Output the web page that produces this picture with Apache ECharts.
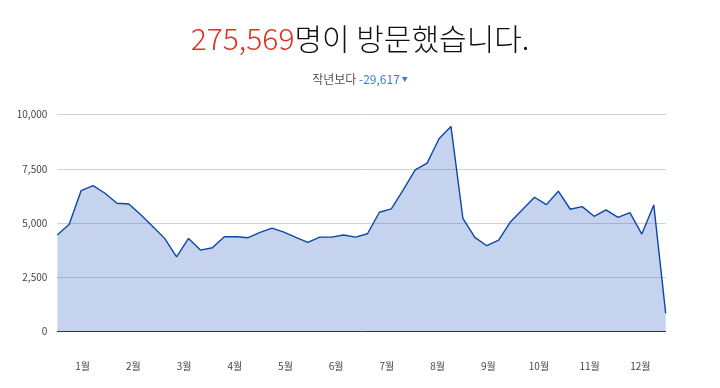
<!DOCTYPE html>
<html><head><meta charset="utf-8">
<script src="https://cdn.jsdelivr.net/npm/echarts@6/dist/echarts.min.js"></script>
<style>html,body{margin:0;padding:0;background:#fff}#c{width:720px;height:388px}</style>
</head><body><div id="c"></div>
<script>
const weeks = Array.from({length: 52}, (_, i) => 'W' + (i + 1));
const visits = [4444,4940,6496,6727,6375,5912,5880,5380,4840,4290,3440,4290,3750,3857,4366,4366,4320,4570,4760,4580,4340,4107,4350,4350,4444,4350,4505,5495,5650,6530,7454,7764,8890,9460,5218,4338,3950,4213,5060,5620,6190,5848,6468,5635,5755,5310,5602,5264,5477,4490,5834,830];
const months = ['1월','2월','3월','4월','5월','6월','7월','8월','9월','10월','11월','12월'];
const yTicks = [0, 2500, 5000, 7500, 10000];
const totalText = '275,569';
const titleRest = '명이 방문했습니다.';
const diffLabel = '작년보다 ';
const diffText = '-29,617';

const FONT = '"Noto Sans CJK KR", "Noto Sans", sans-serif';
const chart = echarts.init(document.getElementById('c'));
chart.setOption({
  animation: false,
  textStyle: {fontFamily: FONT},
  title: [{
    left: 'center', top: 12,
    text: '{r|' + totalText + '}{b|' + titleRest + '}',
    textStyle: {
      fontWeight: 300,
      rich: {
        r: {color: '#e0311f', fontSize: 30, fontFamily: FONT, fontWeight: 300, lineHeight: 44},
        b: {color: '#111', fontSize: 30, fontFamily: FONT, fontWeight: 300, lineHeight: 44}
      }
    }
  }, {
    left: 'center', top: 65,
    text: '{g|' + diffLabel + '}{n|' + diffText + '}{t|▼}',
    textStyle: {
      fontWeight: 'normal',
      rich: {
        g: {color: '#555', fontSize: 12, fontFamily: FONT, fontWeight: 'normal', lineHeight: 18},
        n: {color: '#3a7bd5', fontSize: 12, fontFamily: FONT, fontWeight: 'normal', lineHeight: 18},
        t: {color: '#3a7bd5', fontSize: 6, fontFamily: FONT, fontWeight: 'normal', lineHeight: 18, padding: [0, 0, 0, 2]}
      }
    }
  }],
  grid: {left: 57.3, right: 54.3, top: 114.7, bottom: 56.7},
  xAxis: [{
    type: 'category', data: weeks, boundaryGap: false,
    axisLine: {show: true, lineStyle: {color: '#333', width: 1}},
    axisTick: {show: false}, axisLabel: {show: false}, splitLine: {show: false}
  }, {
    type: 'category', data: months, boundaryGap: true, position: 'bottom',
    axisLine: {show: false}, axisTick: {show: false}, splitLine: {show: false},
    axisLabel: {color: '#444', fontSize: 10, margin: 30, fontFamily: FONT}
  }],
  yAxis: {
    type: 'value', min: yTicks[0], max: yTicks[yTicks.length - 1], interval: 2500,
    axisLine: {show: false}, axisTick: {show: false},
    axisLabel: {color: '#444', fontSize: 10, margin: 10, fontFamily: FONT,
      formatter: v => v.toLocaleString('en-US')},
    splitLine: {lineStyle: {color: '#d0d0d0', width: 1}}
  },
  series: [{
    type: 'line', xAxisIndex: 0, data: visits, symbol: 'none',
    lineStyle: {color: '#0b47a6', width: 1.4},
    areaStyle: {color: '#3e6cc6', opacity: 0.3}
  }]
});
</script></body></html>
